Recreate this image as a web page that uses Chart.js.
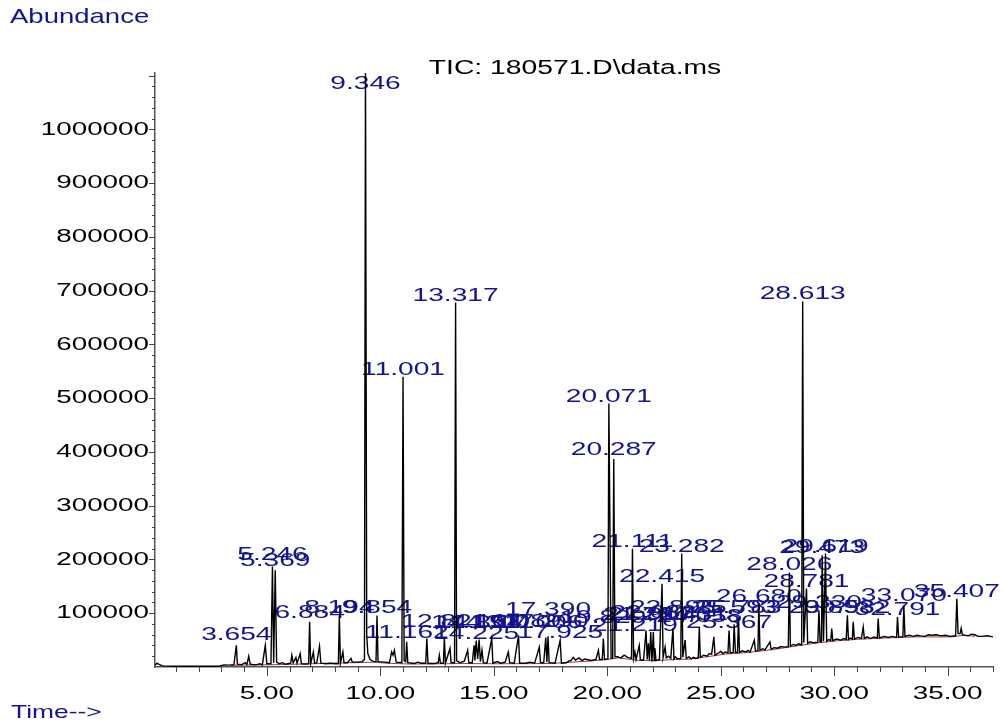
<!DOCTYPE html>
<html><head><meta charset="utf-8">
<script src="https://cdn.jsdelivr.net/npm/chart.js"></script>
<style>html,body{margin:0;padding:0;background:#fff;}#wrap{width:1003px;height:724px;position:relative;}</style>
</head><body><div id="wrap"><canvas id="c" width="1003" height="724"></canvas></div>
<script>
// TIC trace: [retention time (min), abundance]
const ticTrace = [[0.07,3000],[0.15,7000],[0.25,5000],[0.4,2000],[1.0,1500],[2.0,1500],[2.9,1500],[3.1,4000],[3.3,3500],[3.55,4500],[3.654,40500],[3.7,5000],[3.9,4500],[4.05,8000],[4.12,4500],[4.2,20000],[4.27,5000],[4.5,4000],[4.7,6000],[4.8,4000],[4.93,40000],[5.0,6000],[5.18,6000],[5.246,187000],[5.3,8000],[5.369,180000],[5.43,9000],[5.55,6000],[5.7,8000],[5.8,5000],[6.05,7000],[6.1,22000],[6.16,8000],[6.28,18000],[6.33,7000],[6.47,25000],[6.52,6000],[6.7,5500],[6.84,6000],[6.884,84000],[6.93,6000],[7.05,28000],[7.1,7000],[7.2,8000],[7.32,38700],[7.38,7000],[7.6,6000],[7.8,7000],[8.0,6000],[8.15,6000],[8.194,96000],[8.24,7000],[8.35,28000],[8.4,8000],[8.55,8000],[8.71,16000],[8.76,9000],[9.0,9000],[9.2,10000],[9.3,14000],[9.346,1120000],[9.4,60000],[9.45,25000],[9.55,14000],[9.7,10000],[9.81,10000],[9.854,96000],[9.9,10000],[10.2,9000],[10.4,8000],[10.5,28000],[10.56,22000],[10.62,31000],[10.7,9000],[10.95,8000],[11.001,540000],[11.05,12000],[11.12,10000],[11.162,46700],[11.21,8000],[11.5,6500],[11.65,9000],[11.8,7000],[12.0,7000],[12.05,53000],[12.1,6500],[12.4,6500],[12.55,8000],[12.6,22000],[12.65,7000],[12.78,7000],[12.821,55000],[12.87,7000],[13.07,35000],[13.12,8000],[13.27,8000],[13.317,678000],[13.36,12000],[13.5,8000],[13.7,11000],[13.85,31000],[13.9,8000],[14.05,8000],[14.13,40000],[14.17,12000],[14.225,49000],[14.29,15000],[14.354,51000],[14.41,10000],[14.48,31000],[14.54,8000],[14.7,7000],[14.911,53000],[14.96,7000],[15.15,10000],[15.3,7000],[15.5,9000],[15.64,28000],[15.7,8000],[15.9,7000],[16.089,59000],[16.14,7000],[16.4,7000],[16.6,9000],[16.8,7000],[17.006,37000],[17.06,8000],[17.2,8000],[17.29,55000],[17.34,9000],[17.39,57000],[17.44,8000],[17.7,7000],[17.925,49600],[17.98,7000],[18.2,8000],[18.3,11000],[18.4,12000],[18.5,18000],[18.6,13000],[18.75,17000],[18.9,12000],[19.0,15000],[19.1,14000],[19.3,12000],[19.5,14000],[19.61,31000],[19.66,14000],[19.78,14000],[19.829,53000],[19.88,14000],[20.03,15000],[20.071,490000],[20.17,16000],[20.24,16000],[20.287,387000],[20.34,19000],[20.45,19000],[20.6,17000],[20.75,22000],[20.9,18000],[21.07,16000],[21.111,220000],[21.16,16000],[21.219,28000],[21.27,14000],[21.41,40000],[21.46,13000],[21.6,13000],[21.71,68000],[21.76,14000],[21.81,44000],[21.86,12000],[21.917,65000],[21.97,10000],[22.032,65000],[22.07,12000],[22.1,35000],[22.15,12000],[22.3,14000],[22.415,155000],[22.46,18000],[22.55,37000],[22.6,17000],[22.7,20000],[22.8,16000],[22.895,72000],[22.94,15000],[23.0,19000],[23.1,15000],[23.24,16000],[23.282,211000],[23.33,18000],[23.431,50000],[23.48,16000],[23.6,19000],[23.7,15000],[23.8,18000],[23.9,16000],[24.01,17000],[24.058,74500],[24.1,18000],[24.25,22000],[24.4,20000],[24.5,25000],[24.6,24000],[24.7,56000],[24.75,22000],[24.9,26000],[25.0,29000],[25.1,25000],[25.2,28000],[25.32,26000],[25.367,68000],[25.42,26000],[25.55,27000],[25.593,79500],[25.65,27000],[25.74,27000],[25.783,90000],[25.83,27000],[25.95,30000],[26.1,28000],[26.2,31000],[26.3,28000],[26.48,50000],[26.53,30000],[26.64,30000],[26.68,118000],[26.73,31000],[26.85,34000],[26.95,32000],[27.17,46700],[27.22,33000],[27.35,36000],[27.5,35000],[27.65,38000],[27.8,37000],[27.98,38000],[28.026,176000],[28.07,39000],[28.2,42000],[28.3,40000],[28.45,43000],[28.57,41000],[28.613,680000],[28.66,45000],[28.781,146000],[28.83,44000],[28.95,47000],[29.1,45000],[29.28,46000],[29.33,105600],[29.38,47000],[29.44,47000],[29.473,208000],[29.53,48000],[29.619,211000],[29.67,48000],[29.75,51000],[29.85,49000],[29.893,71500],[29.94,49000],[30.1,52000],[30.3,50000],[30.42,53000],[30.53,51000],[30.582,96000],[30.63,51000],[30.7,54000],[30.8,52000],[30.84,84000],[30.89,52000],[31.05,55000],[31.2,53000],[31.28,74500],[31.33,53000],[31.45,56000],[31.6,53000],[31.75,56000],[31.9,54000],[31.941,90000],[31.99,54000],[32.2,57000],[32.4,55000],[32.55,57000],[32.75,55000],[32.791,93000],[32.84,56000],[33.03,56000],[33.07,115000],[33.12,57000],[33.3,59000],[33.5,57000],[33.65,59000],[33.8,58000],[34.0,57000],[34.15,60000],[34.3,59000],[34.5,60000],[34.7,58000],[34.9,59000],[35.1,57000],[35.35,58000],[35.407,127000],[35.46,62000],[35.55,62000],[35.6,72000],[35.65,60000],[35.9,58000],[36.05,61000],[36.2,60000],[36.35,57000],[36.5,57000],[36.75,58000],[37.0,56000]];

// integration baseline (red)
const integrationBaseline = [[3.4,3000],[5.6,4500],[9.2,8500],[9.7,9000],[10.3,7000],[11.3,5500],[12.7,6000],[13.6,6500],[15.2,6000],[17.5,6500],[19.2,11000],[20.0,14000],[20.5,17000],[21.3,12500],[22.2,12000],[23.0,14000],[23.6,14500],[24.3,18500],[25.2,24000],[26.2,27000],[27.3,32500],[28.4,39500],[29.2,44500],[30.2,49000],[31.2,52000],[32.6,54500],[33.6,56000],[35.2,56000],[35.7,59000],[36.2,57000]];

// peak annotations (retention times)
const peakLabels = ["3.654","5.246","5.369","6.884","8.194","9.346","9.854","11.001","11.162","12.821","13.317","14.130","14.225","14.354","14.911","16.089","17.006","17.290","17.390","17.925","19.829","20.071","20.287","21.111","21.219","21.710","21.917","22.032","22.415","22.895","23.282","23.431","24.058","25.367","25.593","25.783","26.680","28.026","28.613","28.781","29.330","29.473","29.619","29.893","30.582","32.791","33.070","35.407"];
// label lift in pixels (layout only)
const labelLift = [3,4,2,2,0,-18,0,0,2,8,0,15,0,10,9,6,17,8,19,0,14,0,2,0,19,8,10,12,0,13,0,18,3,0,9,4,0,0,0,0,0,0,0,14,0,0,2,0];

const xTickValues = [5,10,15,20,25,30,35];
const xTickLabels = ["5.00","10.00","15.00","20.00","25.00","30.00","35.00"];
const yTickValues = [100000,200000,300000,400000,500000,600000,700000,800000,900000,1000000];
const yTickLabels = ["100000","200000","300000","400000","500000","600000","700000","800000","900000","1000000"];

const X_MIN = 0.07, X_MAX = 37.0, Y_MIN = 0, Y_MAX = 1105000;
const NAVY = '#14148c';
const FONT = '"Liberation Sans", Arial, sans-serif';

function sText(ctx, text, x, y, size, sx, align, color, baseline) {
  ctx.save();
  ctx.font = size + 'px ' + FONT;
  ctx.fillStyle = color;
  ctx.textAlign = align;
  ctx.textBaseline = baseline || 'alphabetic';
  ctx.translate(x, y);
  ctx.scale(sx, 1);
  ctx.fillText(text, 0, 0);
  ctx.restore();
}

function apexAt(t) {
  let best = ticTrace[0];
  for (const p of ticTrace) if (Math.abs(p[0] - t) < Math.abs(best[0] - t)) best = p;
  return best[1];
}

const chromPlugin = {
  id: 'chrom',
  beforeDatasetsDraw(chart) {
    const ctx = chart.ctx, xs = chart.scales.x, ys = chart.scales.y, top = chart.chartArea.top;
    peakLabels.forEach((lab, i) => {
      const t = parseFloat(lab);
      const px = xs.getPixelForValue(t);
      let py = ys.getPixelForValue(apexAt(t));
      if (py < top) py = top;
      sText(ctx, lab, px, py - 2 - labelLift[i], 19, 1.48, 'center', NAVY);
    });
  },
  afterDraw(chart) {
    const ctx = chart.ctx, xs = chart.scales.x, ys = chart.scales.y, ca = chart.chartArea;
    ctx.save();
    ctx.strokeStyle = '#444';
    ctx.lineWidth = 1;
    for (let v = 20000; v <= Y_MAX; v += 20000) {
      const py = Math.round(ys.getPixelForValue(v)) + 0.5;
      const major = v % 100000 === 0;
      ctx.beginPath(); ctx.moveTo(ca.left, py); ctx.lineTo(ca.left - (major ? 6 : 3), py); ctx.stroke();
    }
    for (let v = 1; v <= X_MAX; v += 1) {
      const px = Math.round(xs.getPixelForValue(v)) + 0.5;
      const major = v % 5 === 0;
      ctx.beginPath(); ctx.moveTo(px, ca.bottom); ctx.lineTo(px, ca.bottom + (major ? 9 : 5)); ctx.stroke();
    }
    ctx.restore();
    yTickValues.forEach((v, i) => {
      sText(ctx, yTickLabels[i], ca.left - 6, ys.getPixelForValue(v), 18.8, 1.48, 'right', '#000', 'middle');
    });
    xTickValues.forEach((v, i) => {
      sText(ctx, xTickLabels[i], xs.getPixelForValue(v), 699, 18.8, 1.48, 'center', '#000');
    });
    sText(ctx, 'TIC: 180571.D\\data.ms', 575, 74, 20.5, 1.38, 'center', '#000');
    sText(ctx, 'Abundance', 10, 22.7, 21, 1.31, 'left', NAVY);
    sText(ctx, 'Time-->', 11, 718, 18.6, 1.42, 'left', NAVY);
  }
};

new Chart(document.getElementById('c').getContext('2d'), {
  type: 'line',
  data: {
    datasets: [
      { label: 'TIC', data: ticTrace.map(([x, y]) => ({x, y})), borderColor: '#000', borderWidth: 1.4, pointRadius: 0, tension: 0, fill: false },
      { label: 'Baseline', data: integrationBaseline.map(([x, y]) => ({x, y})), borderColor: '#a02020', borderWidth: 0.9, pointRadius: 0, tension: 0, fill: false }
    ]
  },
  options: {
    responsive: false, animation: false, events: [],
    layout: { padding: { left: 155, right: 10, top: 73, bottom: 57 } },
    plugins: { legend: { display: false }, tooltip: { enabled: false }, title: { display: false } },
    scales: {
      x: { type: 'linear', min: X_MIN, max: X_MAX, grid: { display: false, drawTicks: false }, border: { display: true, color: '#555', width: 1.5 }, ticks: { display: false } },
      y: { type: 'linear', min: Y_MIN, max: Y_MAX, grid: { display: false, drawTicks: false }, border: { display: true, color: '#555', width: 1.5 }, ticks: { display: false } }
    }
  },
  plugins: [chromPlugin]
});
</script></body></html>
